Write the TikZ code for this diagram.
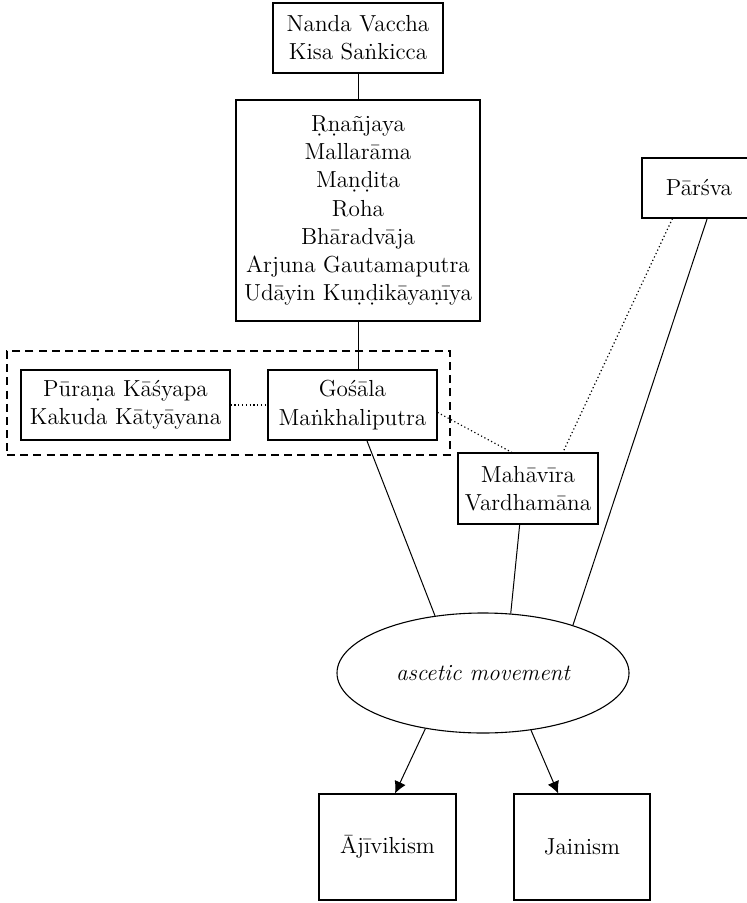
\documentclass[tikz,border=0pt]{standalone}
\usetikzlibrary{shapes.geometric,arrows.meta}
\begin{document}
\begin{tikzpicture}[x=0.5pt,y=-0.5pt,
  every node/.style={font=\fontsize{11.6}{14.1}\selectfont},
  box/.style={draw,line width=0.55pt,inner sep=0pt,align=center},
  conn/.style={line width=0.5pt},
  dots/.style={line width=0.6pt,dash pattern=on 0.6pt off 1.3pt},
  arr/.style={line width=0.5pt,-{Latex[length=6pt,width=6pt]}}]
\clip (0,0) rectangle (747,903);
\useasboundingbox (0,0) rectangle (747,903);
\node[box,minimum width=85pt,minimum height=35pt] (top) at (358,38) {Nanda Vaccha\\Kisa Saṅkicca};
\node[box,minimum width=122pt,minimum height=110.5pt] (big) at (358,210.5)
  {Ṛṇañjaya\\Mallarāma\\Maṇḍita\\Roha\\Bhāradvāja\\Arjuna Gautamaputra\\Udāyin Kuṇḍikāyaṇīya};
\node[draw,dash pattern=on 4pt off 2.6pt,line width=0.55pt,inner sep=0pt,minimum width=221.5pt,minimum height=52pt] (grp) at (228.5,403) {};
\node[box,minimum width=104.5pt,minimum height=35pt] (purana) at (125.5,405) {Pūraṇa Kāśyapa\\Kakuda Kātyāyana};
\node[box,minimum width=84.5pt,minimum height=35pt] (gosala) at (352.5,405) {Gośāla\\Maṅkhaliputra};
\node[box,minimum width=70pt,minimum height=35.5pt] (mahavira) at (528,488.5) {Mahāvīra\\Vardhamāna};
\node[box,minimum width=57pt,minimum height=30pt] (parsva) at (699,188) {Pārśva};
\node[draw,ellipse,line width=0.55pt,inner sep=0pt,minimum width=146pt,minimum height=60pt] (asc) at (483,673) {\itshape ascetic movement};
\node[box,minimum width=68.5pt,minimum height=53pt] (ajiv) at (387.5,847) {Ājīvikism};
\node[box,minimum width=68pt,minimum height=53pt] (jain) at (582,847) {Jainism};
\draw[conn] (top) -- (big);
\draw[conn] (big.south) -- (big.south |- gosala.north);
\draw[dots] (purana.east) -- (gosala.west);
\draw[dots] (gosala.-5) -- (mahavira.114);
\draw[dots] (parsva.229) -- (mahavira.46);
\draw[conn] (gosala.292.5) -- (asc.130.8);
\draw[conn] (mahavira.257.3) -- (asc.65);
\draw[conn] (parsva.285) -- (asc.28);
\draw[arr] (asc.224) -- (ajiv.82);
\draw[arr] (asc.310.7) -- (jain.114.4);
\end{tikzpicture}
\end{document}
